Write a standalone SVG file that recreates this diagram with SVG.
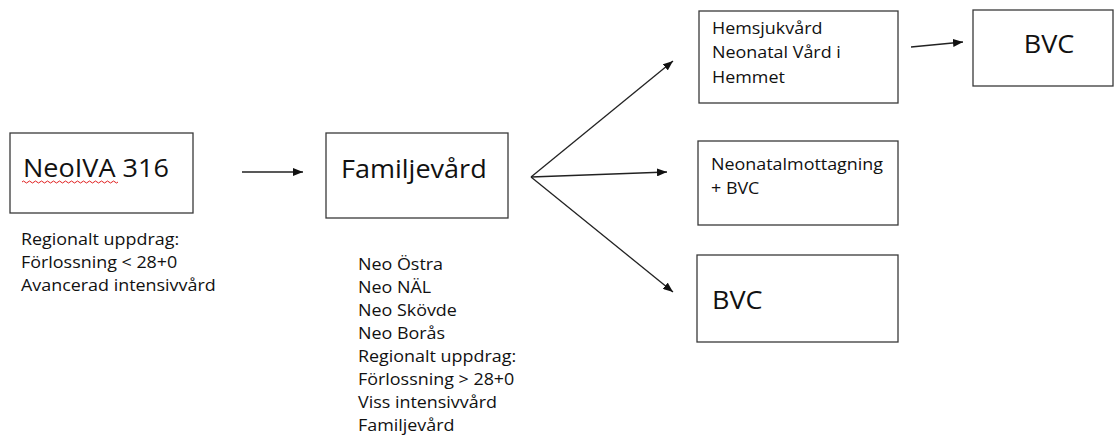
<svg xmlns="http://www.w3.org/2000/svg" width="1115" height="440" viewBox="0 0 1115 440">
<style>
.box{fill:#fff;stroke:#3a3a3a;stroke-width:1.3}
.t{font-family:"Open Sans","Liberation Sans",sans-serif;fill:#111}
.big{font-size:25.5px}
.sm{font-size:16px}
.ln{stroke:#222;stroke-width:1.3;fill:none;marker-end:url(#ah)}
</style>
<defs>
<marker id="ah" viewBox="0 0 10 8" refX="10" refY="4" markerWidth="10" markerHeight="8" markerUnits="userSpaceOnUse" orient="auto">
<path d="M0,0 L10,4 L0,8 z" fill="#111"/>
</marker>
</defs>
<rect width="1115" height="440" fill="#fff"/>
<g id="neoiva">
<rect class="box" x="10" y="133" width="183" height="80"/>
<text class="t big" x="23" y="177" transform="matrix(1.06 0 0 1 -1.38 0)">NeoIVA 316</text>
<path d="M22,182 q1.5,-2 3,0 t3,0 t3,0 t3,0 t3,0 t3,0 t3,0 t3,0 t3,0 t3,0 t3,0 t3,0 t3,0 t3,0 t3,0 t3,0 t3,0 t3,0 t3,0 t3,0 t3,0 t3,0 t3,0 t3,0 t3,0 t3,0 t3,0 t3,0 t3,0 t3,0 t3,0 t3,0" fill="none" stroke="#e02020" stroke-width="1"/>
<text class="t sm" transform="matrix(1.12 0 0 1 -2.52 0)"><tspan x="21" y="245">Regionalt uppdrag:</tspan><tspan x="21" y="268">Förlossning &lt; 28+0</tspan><tspan x="21" y="291">Avancerad intensivvård</tspan></text>
</g>
<g id="familjevard">
<rect class="box" x="326" y="133" width="182" height="85"/>
<text class="t big" x="341" y="178" transform="matrix(1.06 0 0 1 -20.46 0)">Familjevård</text>
<text class="t sm" transform="matrix(1.12 0 0 1 -42.96 0)"><tspan x="358" y="270">Neo Östra</tspan><tspan x="358" y="293">Neo NÄL</tspan><tspan x="358" y="316">Neo Skövde</tspan><tspan x="358" y="339">Neo Borås</tspan><tspan x="358" y="362">Regionalt uppdrag:</tspan><tspan x="358" y="385">Förlossning &gt; 28+0</tspan><tspan x="358" y="408">Viss intensivvård</tspan><tspan x="358" y="431">Familjevård</tspan></text>
</g>
<g id="hemsjukvard">
<rect class="box" x="699" y="11" width="199" height="92"/>
<text class="t sm" transform="matrix(1.12 0 0 1 -85.44 0)"><tspan x="712" y="34">Hemsjukvård</tspan><tspan x="712" y="58">Neonatal Vård i</tspan><tspan x="712" y="83">Hemmet</tspan></text>
</g>
<g id="bvc-top">
<rect class="box" x="973" y="10" width="140" height="76"/>
<text class="t big" x="1049" y="53" text-anchor="middle" transform="matrix(1.06 0 0 1 -62.94 0)">BVC</text>
</g>
<g id="neonatalmottagning">
<rect class="box" x="698" y="141" width="200" height="84"/>
<text class="t sm" transform="matrix(1.12 0 0 1 -85.32 0)"><tspan x="711" y="170">Neonatalmottagning</tspan><tspan x="711" y="194">+ BVC</tspan></text>
</g>
<g id="bvc-bottom">
<rect class="box" x="697" y="255" width="201" height="87"/>
<text class="t big" x="712" y="309" transform="matrix(1.06 0 0 1 -42.72 0)">BVC</text>
</g>
<g id="connectors">
<line class="ln" x1="242" y1="172" x2="303" y2="172"/>
<line class="ln" x1="531" y1="177" x2="673" y2="61"/>
<line class="ln" x1="531" y1="177" x2="667" y2="172"/>
<line class="ln" x1="531" y1="177" x2="673" y2="292"/>
<line class="ln" x1="911" y1="47" x2="963" y2="42"/>
</g>
</svg>
